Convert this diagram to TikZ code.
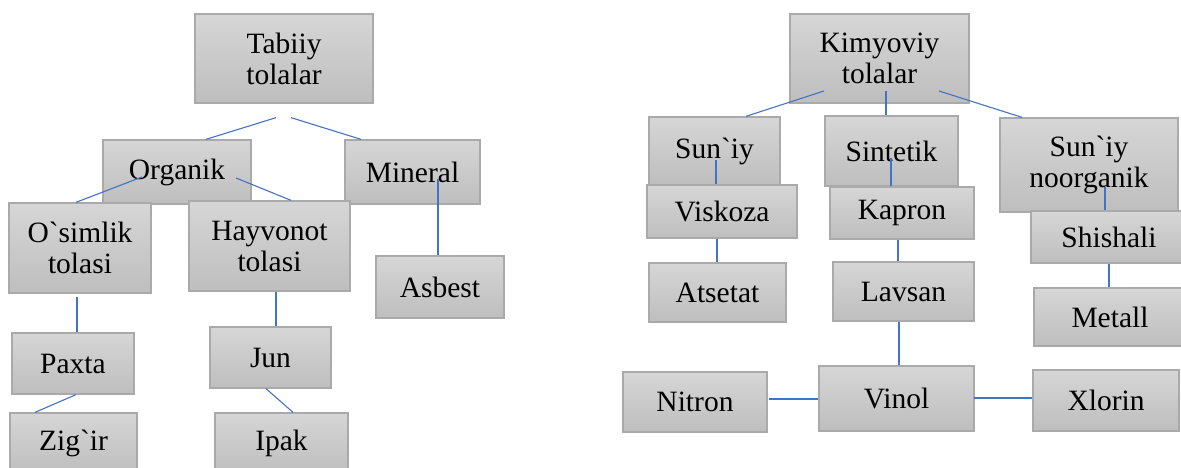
\documentclass[tikz,border=0pt]{standalone}
\usepackage{fontspec}
\setmainfont{Liberation Serif}

\definecolor{boxtop}{RGB}{214,214,214}
\definecolor{boxbottom}{RGB}{190,190,190}
\definecolor{boxline}{RGB}{170,170,170}
\definecolor{linkblue}{RGB}{68,114,196}

\begin{document}
\begin{tikzpicture}[x=1pt, y=-1pt]
        % Define styles
        \tikzset{
            box/.style={rectangle, draw=boxline, line width=1.3pt, top color=boxtop, bottom color=boxbottom,
                align=center, inner sep=0pt, font=\fontsize{29.5}{31}\selectfont},
            link/.style={draw=linkblue, line width=1.1pt}
        }
        \useasboundingbox (0,0) rectangle (1181,468);

        % Tabiiy tolalar
        \node[box, minimum width=178, minimum height=89] (tabiiy) at (284,58.5) {Tabiiy\\tolalar};
        \node[box, minimum width=148, minimum height=64] (organik) at (177,172) {Organik};
        \node[box, minimum width=135, minimum height=64] (mineral) at (412.5,172) {Mineral};
        \node[box, minimum width=142, minimum height=90] (osimlik) at (80,248) {O\textasciigrave simlik\\tolasi};
        \node[box, minimum width=161, minimum height=90] (hayvonot) at (269.5,246) {Hayvonot\\tolasi};
        \node[box, minimum width=128, minimum height=62] (asbest) at (440,287) {Asbest};
        \node[box, minimum width=122, minimum height=61] (paxta) at (73,363.5) {Paxta};
        \node[box, minimum width=121, minimum height=61] (jun) at (270.5,357.5) {Jun};
        \node[box, minimum width=127, minimum height=60] (zigir) at (73.5,443) {Zig\textasciigrave ir};
        \node[box, minimum width=133, minimum height=60] (ipak) at (281.5,443) {Ipak};

        % Kimyoviy tolalar
        \node[box, minimum width=179, minimum height=89] (kimyoviy) at (879.5,58.5) {Kimyoviy\\tolalar};
        \node[box, minimum width=131, minimum height=68] (suniy) at (714.5,151) {Sun\textasciigrave iy};
        \node[box, minimum width=133, minimum height=70] (sintetik) at (891.5,151) {Sintetik};
        \node[box, minimum width=178, minimum height=94] (noorganik) at (1089,165) {Sun\textasciigrave iy\\noorganik};
        \node[box, minimum width=150, minimum height=53] (viskoza) at (722,211.5) {Viskoza};
        \node[box, minimum width=144, minimum height=52] (kapron) at (902,213) {Kapron};
        \node[box, minimum width=156, minimum height=52] (shishali) at (1109,237) {Shishali};
        \node[box, minimum width=137, minimum height=59] (atsetat) at (717.5,292.5) {Atsetat};
        \node[box, minimum width=141, minimum height=59] (lavsan) at (903.5,291.5) {Lavsan};
        \node[box, minimum width=152, minimum height=58] (metall) at (1110,317) {Metall};
        \node[box, minimum width=144, minimum height=60] (nitron) at (695,402) {Nitron};
        \node[box, minimum width=155, minimum height=65] (vinol) at (896.5,398.5) {Vinol};
        \node[box, minimum width=146, minimum height=61] (xlorin) at (1106,400.5) {Xlorin};

        % Links, left tree
        \draw[link] ([shift={(-8,14)}]tabiiy.south) -- ([shift={(29,0)}]organik.north);
        \draw[link] ([shift={(7,14)}]tabiiy.south) -- ([shift={(-51.5,0)}]mineral.north);
        \draw[link] ([shift={(-35,5)}]organik.center) -- ([shift={(-4,0)}]osimlik.north);
        \draw[link] ([shift={(59,6)}]organik.center) -- ([shift={(21.5,0)}]hayvonot.north);
        \draw[link] ([shift={(25.5,7)}]mineral.center) -- ([shift={(-2,0)}]asbest.north);
        \draw[link] ([shift={(-3,3)}]osimlik.south) -- ([shift={(4,0)}]paxta.north);
        \draw[link] ([shift={(6.5,0)}]hayvonot.south) -- ([shift={(5.5,0)}]jun.north);
        \draw[link] ([shift={(3,0)}]paxta.south) -- ([shift={(-38.5,0)}]zigir.north);
        \draw[link] ([shift={(-4.5,0)}]jun.south) -- ([shift={(11.5,0)}]ipak.north);

        % Links, right tree
        \draw[link] ([shift={(-55.5,32.5)}]kimyoviy.center) -- ([shift={(31.5,0)}]suniy.north);
        \draw[link] ([shift={(6.5,32.5)}]kimyoviy.center) -- ([shift={(-5.5,0)}]sintetik.north);
        \draw[link] ([shift={(59.5,32.5)}]kimyoviy.center) -- ([shift={(-67,0)}]noorganik.north);
        \draw[link] ([shift={(1.5,9)}]suniy.center) -- ([shift={(-6,0)}]viskoza.north);
        \draw[link] ([shift={(-0.5,7)}]sintetik.center) -- ([shift={(-11,0)}]kapron.north);
        \draw[link] ([shift={(16,22)}]noorganik.center) -- ([shift={(-4,0)}]shishali.north);
        \draw[link] ([shift={(-5,0)}]viskoza.south) -- ([shift={(-0.5,0)}]atsetat.north);
        \draw[link] ([shift={(-4,0)}]kapron.south) -- ([shift={(-5.5,0)}]lavsan.north);
        \draw[link] (shishali.south) -- ([shift={(-1,0)}]metall.north);
        \draw[link] ([shift={(-4.5,0)}]lavsan.south) -- ([shift={(2.5,0)}]vinol.north);
        \draw[link] ([shift={(1,-3)}]nitron.east) -- ([shift={(0,0.5)}]vinol.west);
        \draw[link] ([shift={(-1,-0.5)}]vinol.east) -- ([shift={(0,-2.5)}]xlorin.west);
    \end{tikzpicture}
\end{document}
